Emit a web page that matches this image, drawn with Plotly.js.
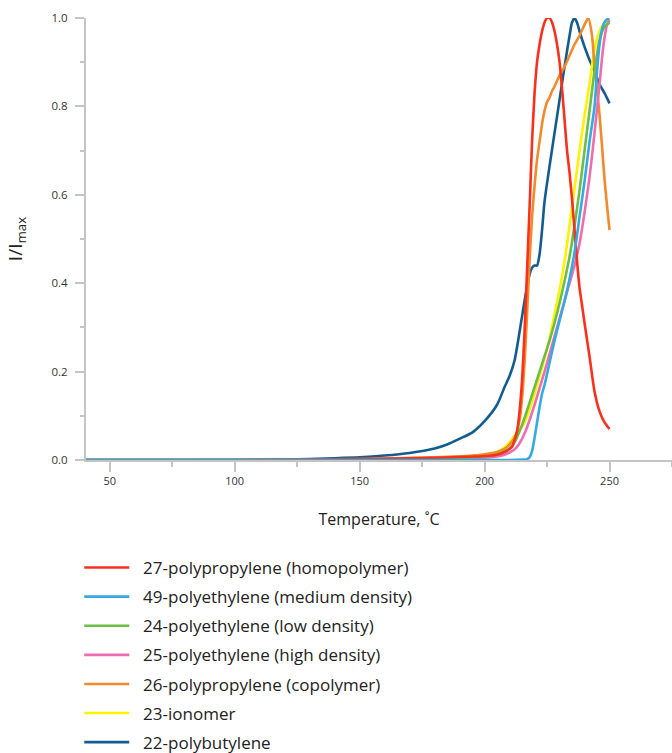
<!DOCTYPE html>
<html>
<head>
<meta charset="utf-8">
<script src="https://cdn.plot.ly/plotly-3.0.1.min.js"></script>
<style>html,body{margin:0;padding:0;background:#fff;}#chart{width:672px;height:753px;}</style>
</head>
<body>
<div id="chart"></div>
<script>
// Series names (legend order)
const names = [
  "27-polypropylene (homopolymer)",
  "49-polyethylene (medium density)",
  "24-polyethylene (low density)",
  "25-polyethylene (high density)",
  "26-polypropylene (copolymer)",
  "23-ionomer",
  "22-polybutylene"
];

// 27-polypropylene (homopolymer)
const t27 = [40,100,150,180,200,205,208,210,211,212,213,214,215,216,217,218,219,220,221,222,223,224,225,226,227,228,229,230,231,232,233,234,235,236,237,238,239,240,242,244,246,248,250];
const v27 = [0,0,0.002,0.005,0.009,0.012,0.018,0.025,0.03,0.045,0.065,0.11,0.18,0.29,0.43,0.57,0.72,0.83,0.9,0.94,0.97,0.99,1.0,1.0,0.99,0.97,0.94,0.9,0.84,0.77,0.70,0.65,0.59,0.52,0.45,0.39,0.35,0.31,0.234,0.155,0.11,0.085,0.07];

// 49-polyethylene (medium density)
const t49 = [40,100,150,200,210,215,217,218,219,220,221,222,223,224,226,228,230,232,234,236,238,240,242,244,245,246,247,248,249,250];
const v49 = [0,0,0,0,0,0.001,0.002,0.006,0.02,0.05,0.085,0.12,0.15,0.17,0.22,0.27,0.315,0.36,0.41,0.47,0.55,0.63,0.72,0.8,0.88,0.94,0.975,0.99,0.997,1.0];

// 24-polyethylene (low density)
const t24 = [40,100,150,180,200,205,208,210,212,214,216,218,220,222,224,226,228,230,232,234,236,238,240,242,244,246,248,250];
const v24 = [0,0,0.001,0.003,0.008,0.013,0.02,0.026,0.04,0.065,0.095,0.13,0.165,0.2,0.235,0.27,0.31,0.355,0.405,0.46,0.53,0.61,0.7,0.79,0.88,0.95,0.98,0.99];

// 25-polyethylene (high density)
const t25 = [40,100,150,190,200,205,208,210,212,214,216,218,220,222,224,226,228,230,232,234,236,238,240,242,244,246,247,248,249,250];
const v25 = [0,0,0.001,0.004,0.005,0.008,0.012,0.017,0.024,0.038,0.06,0.09,0.125,0.162,0.2,0.24,0.28,0.32,0.36,0.4,0.44,0.49,0.56,0.64,0.74,0.85,0.91,0.955,0.985,0.995];

// 26-polypropylene (copolymer)
const t26 = [40,100,150,180,195,200,205,208,210,212,214,215,216,217,218,219,220,221,222,223,224,225,226,227,228,230,232,234,236,238,240,241.5,243,244,245,246,247,248,249,250];
const v26 = [0,0,0.002,0.006,0.01,0.013,0.018,0.025,0.035,0.05,0.09,0.14,0.22,0.33,0.45,0.55,0.62,0.68,0.72,0.76,0.79,0.81,0.82,0.835,0.845,0.87,0.89,0.915,0.94,0.96,0.985,1.0,0.96,0.89,0.84,0.78,0.71,0.635,0.575,0.52];

// 23-ionomer
const t23 = [40,100,150,180,195,200,205,208,210,212,214,216,218,220,222,224,226,228,230,232,234,236,238,240,242,244,246,248,250];
const v23 = [0,0,0.001,0.004,0.008,0.01,0.018,0.028,0.04,0.055,0.068,0.085,0.115,0.15,0.19,0.23,0.275,0.33,0.385,0.45,0.53,0.615,0.7,0.78,0.852,0.93,0.97,0.99,0.995];

// 22-polybutylene
const t22 = [40,100,120,140,150,160,170,180,185,190,195,200,205,208,210,212,214,216,218,219,220,221,222,223,224,226,228,230,232,234,235,236,237,238,240,242,244,246,248,250];
const v22 = [0,0.0005,0.001,0.004,0.006,0.01,0.016,0.026,0.035,0.048,0.062,0.088,0.125,0.165,0.19,0.225,0.29,0.36,0.42,0.435,0.44,0.44,0.465,0.52,0.585,0.665,0.74,0.815,0.89,0.96,0.99,1.0,0.99,0.97,0.935,0.905,0.88,0.85,0.83,0.807];

const colors = {
  c27: "#f9301b", c49: "#36a9e1", c24: "#6cbd45", c25: "#ee6dae",
  c26: "#f18a2b", c23: "#fff100", c22: "#135c8f"
};

const gap = "\u00A0\u00A0";
function tr(x, y, idx, color) {
  return {x: x, y: y, name: gap + names[idx], legendgroup: "g" + idx, legendrank: idx + 1,
    type: "scatter", mode: "lines",
    line: {color: color, width: 2.6, shape: "spline", smoothing: 0.6},
    hoverinfo: "skip"};
}

// drawn bottom to top; legend order set by legendrank
const data = [
  tr(t22, v22, 6, colors.c22),
  tr(t23, v23, 5, colors.c23),
  tr(t26, v26, 4, colors.c26),
  tr(t25, v25, 3, colors.c25),
  tr(t24, v24, 2, colors.c24),
  tr(t27, v27, 0, colors.c27),
  tr(t49, v49, 1, colors.c49)
];

const axisGray = "#c4c4c4";
const layout = {
  width: 672, height: 753,
  margin: {l: 86, r: 0, t: 18, b: 293, autoexpand: false},
  paper_bgcolor: "#fff", plot_bgcolor: "#fff",
  font: {family: "Open Sans, sans-serif", color: "#333"},
  showlegend: true,
  legend: {
    x: -0.0115, xanchor: "left", y: -0.2036, yanchor: "top",
    traceorder: "grouped", tracegroupgap: 4,
    font: {size: 17, color: "#222", family: "Open Sans, sans-serif"},
    itemwidth: 45,
    bgcolor: "rgba(0,0,0,0)"
  },
  xaxis: {
    range: [40.5, 275], showgrid: false, zeroline: false,
    showline: true, linecolor: axisGray, linewidth: 2,
    ticks: "outside", ticklen: 10, tickwidth: 2, tickcolor: axisGray,
    tick0: 50, dtick: 50,
    minor: {ticks: "outside", ticklen: 5, tickwidth: 2, tickcolor: axisGray, dtick: 25, tick0: 25, showgrid: false},
    tickfont: {size: 11, color: "#333"},
    title: {text: "Temperature, ˚C", font: {size: 16, color: "#222"}, standoff: 27}
  },
  yaxis: {
    range: [0, 1.0], showgrid: false, zeroline: false,
    showline: true, linecolor: axisGray, linewidth: 2,
    ticks: "outside", ticklen: 9, tickwidth: 2, tickcolor: axisGray,
    tick0: 0, dtick: 0.2, tickformat: ".1f", ticklabelstandoff: 5,
    minor: {ticks: "outside", ticklen: 4, tickwidth: 2, tickcolor: axisGray, dtick: 0.1, showgrid: false},
    tickfont: {size: 11.5, color: "#333"},
    title: {text: "I/I<sub>max</sub>", font: {size: 19, color: "#222"}, standoff: 24}
  }
};

Plotly.newPlot("chart", data, layout, {displayModeBar: false, staticPlot: true});
</script>
</body>
</html>
